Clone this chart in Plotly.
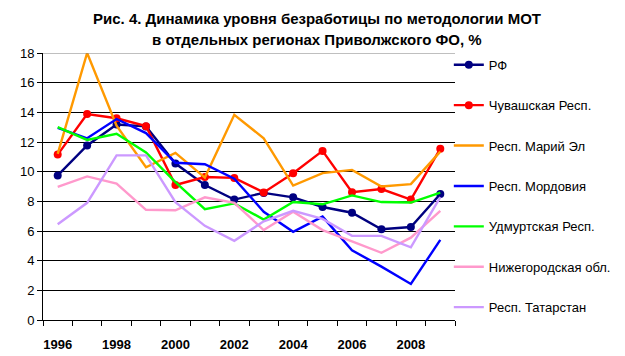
import plotly.graph_objects as go

years = list(range(1996, 2010))
tick_years = [1996, 1998, 2000, 2002, 2004, 2006, 2008]

rf = [9.75, 11.77, 13.18, 13.05, 10.55, 9.1, 8.12, 8.57, 8.27, 7.62, 7.23, 6.12, 6.27, 8.49]
chuvash = [11.15, 13.88, 13.6, 13.07, 9.1, 9.64, 9.58, 8.6, 9.9, 11.4, 8.62, 8.83, 8.12, 11.55]
mari_el = [11.2, 18.0, 13.1, 10.3, 11.27, 9.6, 13.83, 12.25, 9.06, 9.9, 10.12, 9.0, 9.16, 11.35]
mordovia = [12.95, 12.25, 13.55, 12.6, 10.6, 10.5, 9.53, 7.3, 5.95, 6.97, 4.7, 3.6, 2.43, 5.4]
udmurt = [13.0, 12.14, 12.55, 11.3, 9.3, 7.47, 7.86, 6.77, 7.95, 7.8, 8.4, 7.95, 7.92, 8.58]
nizhny = [8.97, 9.68, 9.2, 7.43, 7.4, 8.27, 7.9, 6.06, 7.3, 6.06, 5.3, 4.53, 5.55, 7.36]
tatarstan = [6.45, 7.9, 11.1, 11.1, 7.95, 6.35, 5.34, 6.65, 7.36, 6.82, 5.67, 5.67, 4.9, 8.28]

names = ["РФ", "Чувашская Респ.", "Респ. Марий Эл", "Респ. Мордовия",
         "Удмуртская Респ.", "Нижегородская обл.", "Респ. Татарстан"]
series = [rf, chuvash, mari_el, mordovia, udmurt, nizhny, tatarstan]
colors = ["#000080", "#FF0000", "#FF9900", "#0000FF", "#00FF00", "#FF99CC", "#CC99FF"]
with_markers = [True, True, False, False, False, False, False]

title_lines = ["Рис. 4. Динамика уровня безработицы по методологии МОТ",
               "в отдельных регионах Приволжского ФО, %"]

fig = go.Figure()
for i, (nm, vals, col, mk) in enumerate(zip(names, series, colors, with_markers)):
    fig.add_trace(go.Scatter(
        x=years, y=vals, name=nm,
        mode="lines+markers" if mk else "lines",
        line=dict(color=col, width=2.4),
        marker=dict(color=col, size=8, symbol="circle"),
        legendgroup=f"g{i}",
    ))

# invisible trace on secondary x axis to carry boundary tick marks
fig.add_trace(go.Scatter(x=[years[0]], y=[None], xaxis="x2", showlegend=False,
                         hoverinfo="skip"))

fig.update_layout(
    width=625, height=356,
    margin=dict(l=29, r=178, t=45, b=35),
    paper_bgcolor="white", plot_bgcolor="white",
    font=dict(family="Liberation Sans, Arial, sans-serif", color="black"),
    xaxis=dict(
        range=[1995.5, 2009.5], tickmode="array", tickvals=tick_years,
        ticktext=[f"<b>{y}</b>" for y in tick_years],
        showgrid=False, zeroline=False, showline=True, linecolor="black", linewidth=1,
        ticks="", tickfont=dict(size=13), ticklabelstandoff=12,
    ),
    xaxis2=dict(
        range=[1995.5, 2009.5], overlaying="x", side="bottom",
        tickmode="linear", tick0=1995.5, dtick=1, ticks="outside", ticklen=5,
        tickcolor="black", showticklabels=False, showgrid=False, zeroline=False,
        showline=False,
    ),
    yaxis=dict(
        range=[0, 18], dtick=2, showgrid=True, gridcolor="black", gridwidth=1,
        zeroline=False, showline=True, linecolor="black", linewidth=1,
        ticks="outside", ticklen=5, tickcolor="black", tickfont=dict(size=13),
    ),
    legend=dict(
        x=0.985, xanchor="left", y=1.012, yanchor="top",
        font=dict(size=13), tracegroupgap=20.5, bgcolor="rgba(0,0,0,0)",
        itemwidth=30, maxheight=356,
    ),
    showlegend=True,
)

for txt, yy in zip(title_lines, [1.128, 1.052]):
    fig.add_annotation(text=f"<b>{txt}</b>", xref="paper", yref="paper",
                       x=0.664, y=yy, xanchor="center", yanchor="middle",
                       showarrow=False,
                       font=dict(size=15, family="Liberation Sans, Arial, sans-serif",
                                 color="black"))

fig.add_shape(type="line", xref="paper", yref="y", x0=0, x1=1, y0=18, y1=18,
              line=dict(color="#808080", width=1))

fig.write_html("out.html")
